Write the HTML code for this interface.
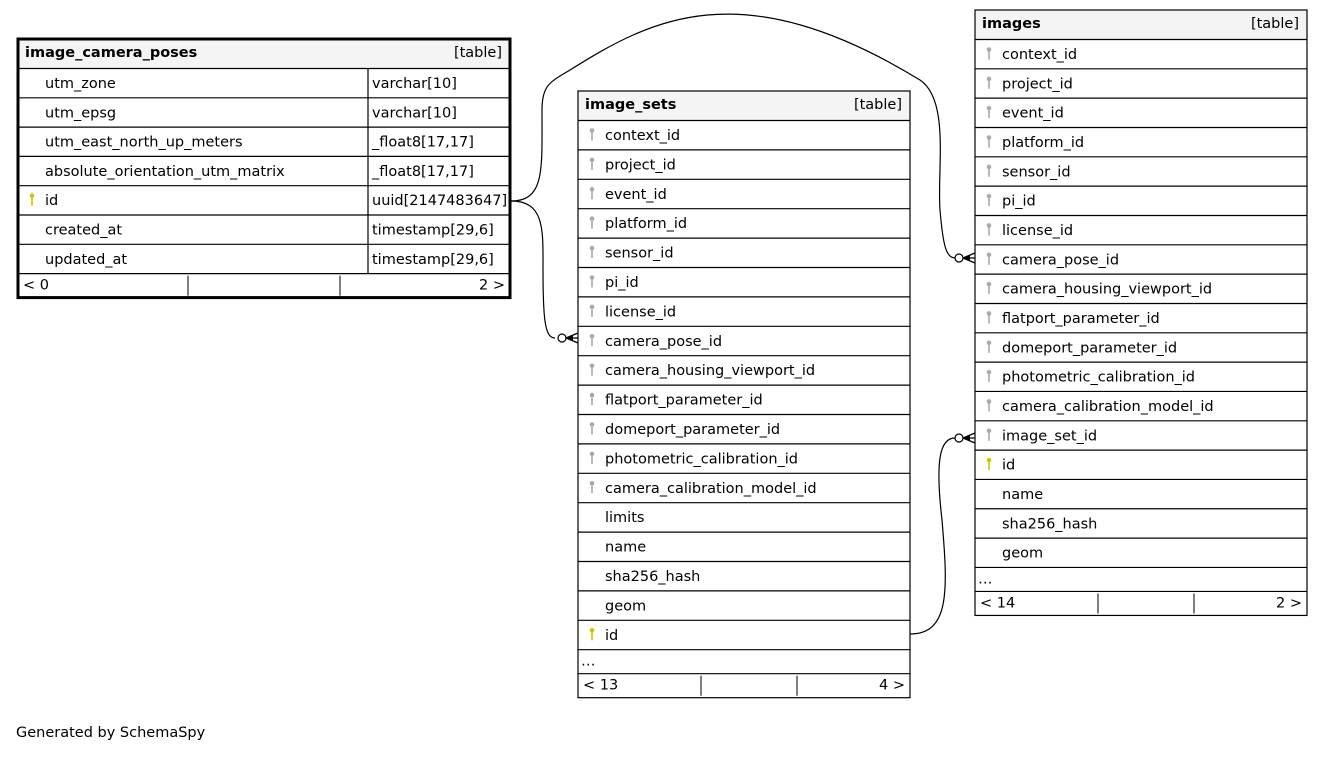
<!DOCTYPE html>
<html><head><meta charset="utf-8"><style>
html,body{margin:0;padding:0;background:#fff;}
svg text{font-family:"DejaVu Sans","Liberation Sans",sans-serif;font-size:14.5px;fill:#000;}
</style></head><body>
<svg id="s" width="1323" height="752" xmlns="http://www.w3.org/2000/svg">
<text x="16" y="737">Generated by SchemaSpy</text>
<g fill="none" stroke="#000" stroke-width="1.2">
<path d="M511,201 C545,201 543,230 543,270 C543,320 545,338 555,338"/>
<path d="M511,201 C545,201 542,170 542,110 C542,85 550,82 570,70 C650,20 740,-30 920,80 C950,100 937,170 940,210 C943,245 946,258 955,258"/>
<path d="M910,634 C950,634 948,590 942,520 C935,460 940,438 955,438"/>
</g>
<g id="marks"></g>
<g id="tables"></g>
</svg>
<script>
const NS="http://www.w3.org/2000/svg";
const T=document.getElementById('tables'),M=document.getElementById('marks');
function el(p,tag,a,txt){const e=document.createElementNS(NS,tag);for(const k in a)e.setAttribute(k,a[k]);if(txt!=null)e.textContent=txt;p.appendChild(e);return e;}
function key(x,y,c){const g=el(T,'g',{fill:c,stroke:c});el(g,'circle',{cx:x,cy:y-10,r:2.3,stroke:'none'});el(g,'rect',{x:x-0.8,y:y-9,width:1.6,height:9,stroke:'none'});}
function table(o){
 const {x,y,w,name,rows,rh,hh,split,extra,foot,seps,bw}=o;
 let cy=y;
 el(T,'rect',{x:x,y:y,width:w,height:hh,fill:'#f4f4f4',stroke:'none'});
 el(T,'text',{x:x+7,y:y+18,'font-weight':'bold'},name);
 el(T,'text',{x:x+w-8,y:y+18,'text-anchor':'end'},'[table]');
 cy=y+hh;
 rows.forEach(r=>{
  el(T,'line',{x1:x,y1:cy,x2:x+w,y2:cy,stroke:'#000','stroke-width':1.2});
  if(r[1])key(x+14,cy+20,r[1]=='p'?'#c8c800':'#aaaaaa');
  el(T,'text',{x:x+27,y:cy+19.5},r[0]);
  if(split){el(T,'text',{x:split+4,y:cy+19.5},r[2]);el(T,'line',{x1:split,y1:cy,x2:split,y2:cy+rh,stroke:'#000','stroke-width':1.2});}
  cy+=rh;
 });
 if(extra){el(T,'line',{x1:x,y1:cy,x2:x+w,y2:cy,stroke:'#000','stroke-width':1.2});el(T,'text',{x:x+3,y:cy+16},'…');cy+=24;}
 el(T,'line',{x1:x,y1:cy,x2:x+w,y2:cy,stroke:'#000','stroke-width':1.2});
 el(T,'text',{x:x+5,y:cy+16},foot[0]);el(T,'text',{x:x+w-5,y:cy+16,'text-anchor':'end'},foot[1]);
 seps.forEach(s=>el(T,'line',{x1:s,y1:cy+2,x2:s,y2:cy+22,stroke:'#000'}));
 cy+=24;
 el(T,'rect',{x:x,y:y,width:w,height:cy-y,fill:'none',stroke:'#000','stroke-width':bw});
}
table({x:18,y:39,w:492,name:'image_camera_poses',rh:29.3,hh:29.5,split:368,bw:3,foot:['< 0','2 >'],seps:[188,340],
rows:[['utm_zone','','varchar[10]'],['utm_epsg','','varchar[10]'],['utm_east_north_up_meters','','_float8[17,17]'],['absolute_orientation_utm_matrix','','_float8[17,17]'],['id','p','uuid[2147483647]'],['created_at','','timestamp[29,6]'],['updated_at','','timestamp[29,6]']]});
const fk=['context_id','project_id','event_id','platform_id','sensor_id','pi_id','license_id','camera_pose_id','camera_housing_viewport_id','flatport_parameter_id','domeport_parameter_id','photometric_calibration_id','camera_calibration_model_id'];
table({x:578,y:91,w:332,name:'image_sets',rh:29.4,hh:29.5,bw:1.2,extra:1,foot:['< 13','4 >'],seps:[701,797],
rows:fk.map(f=>[f,'f']).concat([['limits',''],['name',''],['sha256_hash',''],['geom',''],['id','p']])});
table({x:975,y:10,w:332,name:'images',rh:29.33,hh:29.5,bw:1.2,extra:1,foot:['< 14','2 >'],seps:[1098,1194],
rows:fk.map(f=>[f,'f']).concat([['image_set_id','f'],['id','p'],['name',''],['sha256_hash',''],['geom','']])});
function crow(L,y){
 el(M,'circle',{cx:L-16,cy:y,r:4,fill:'#fff',stroke:'#000','stroke-width':1.2});
 el(M,'path',{d:`M${L-12},${y} L${L},${y-5} M${L-12},${y} L${L},${y} M${L-12},${y} L${L},${y+5}`,stroke:'#000','stroke-width':1.3,fill:'none'});
 el(M,'path',{d:`M${L-12},${y} L${L-5},${y-3} L${L-5},${y+3}Z`,fill:'#000'});
}
crow(578,338);crow(975,258);crow(975,438);
</script>
</body></html>
